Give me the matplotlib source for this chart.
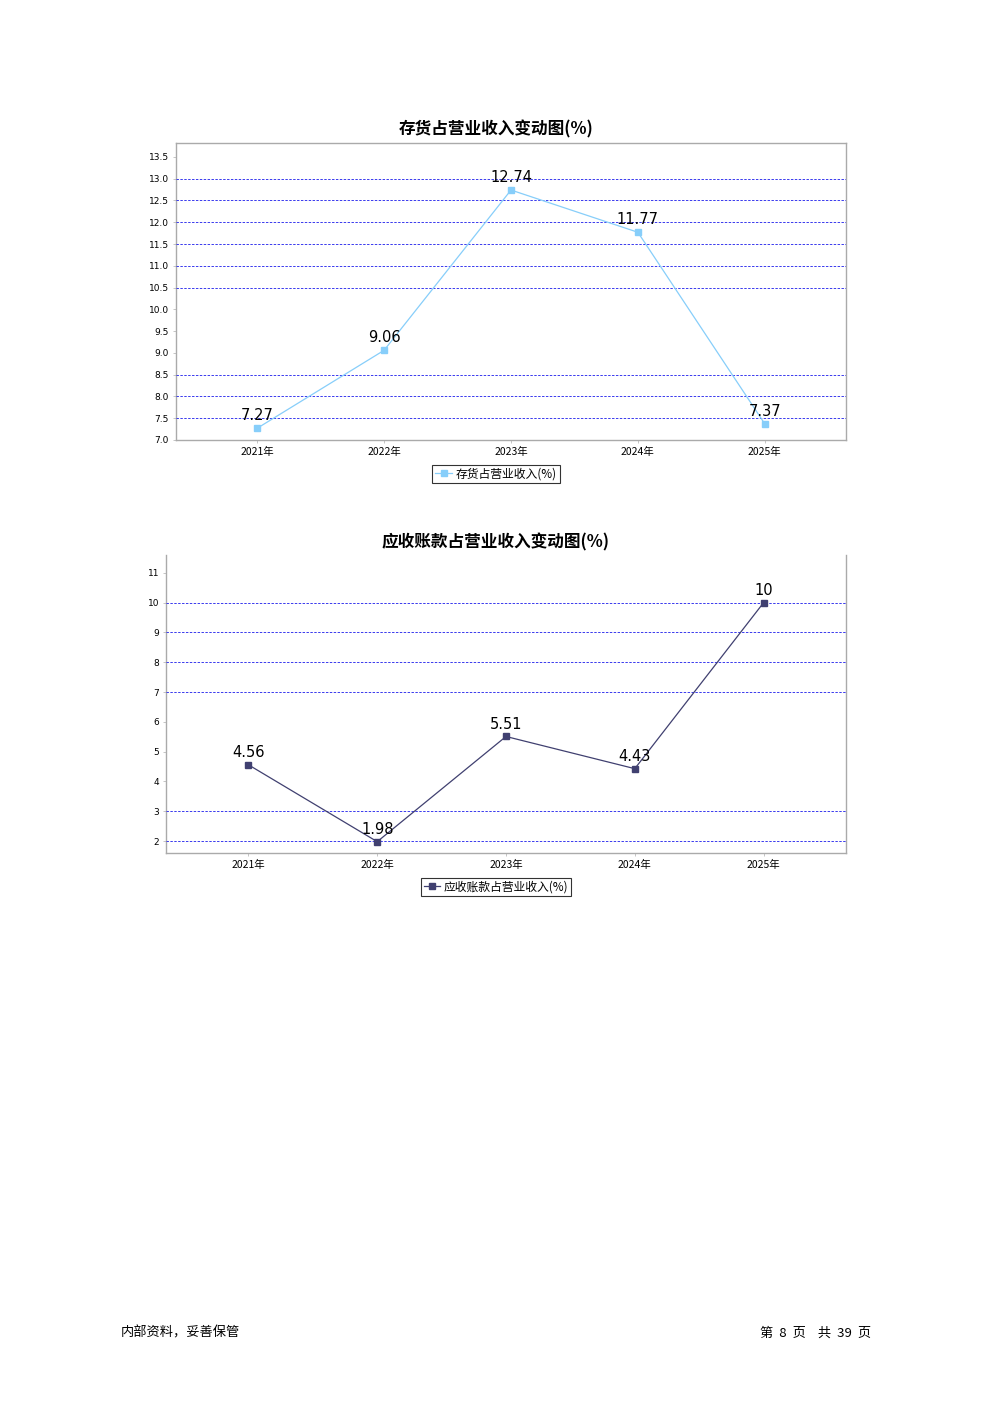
import matplotlib
matplotlib.use("Agg")
import matplotlib.pyplot as plt

plt.rcParams['font.family'] = ['Noto Sans CJK SC', 'DejaVu Sans']

years = ['2021年', '2022年', '2023年', '2024年', '2025年']

# chart 1: inventory / revenue
inv_vals = [7.27, 9.06, 12.74, 11.77, 7.37]
inv_labels = ['7.27', '9.06', '12.74', '11.77', '7.37']
inv_ticks = [7.0, 7.5, 8.0, 8.5, 9.0, 9.5, 10.0, 10.5, 11.0, 11.5, 12.0, 12.5, 13.0, 13.5]
inv_grid = [7.0, 7.5, 8.0, 8.5, 10.5, 11.0, 11.5, 12.0, 12.5, 13.0]

# chart 2: receivables / revenue
ar_vals = [4.56, 1.98, 5.51, 4.43, 10]
ar_labels = ['4.56', '1.98', '5.51', '4.43', '10']
ar_ticks = [2, 3, 4, 5, 6, 7, 8, 9, 10, 11]
ar_grid = [2, 3, 7, 8, 9, 10]

W, H = 992, 1403
fig = plt.figure(figsize=(9.92, 14.03), dpi=100)


def px_axes(x0, y0, x1, y1):
    return fig.add_axes([x0 / W, 1 - y1 / H, (x1 - x0) / W, (y1 - y0) / H])


def draw(ax, vals, labels, ticks, grid, ylim, color, title, name, fmt, top_spine, title_y, leg_y):
    xs = range(len(vals))
    for g in grid:
        ax.axhline(g, color='#3a3aee', lw=0.7, ls=(0, (2.5, 1.5)), zorder=2.6)
    ax.plot(xs, vals, color=color, lw=0.9, marker='s', ms=5, mec=color, label=name, zorder=3)
    for x, v, t in zip(xs, vals, labels):
        ax.annotate(t, (x, v), xytext=(0, 3.5), textcoords='offset points',
                    ha='center', va='bottom', fontsize=10.5, family='DejaVu Sans', zorder=4)
    ax.set_xlim(-0.64, len(vals) - 1 + 0.64)
    ax.set_ylim(*ylim)
    ax.set_xticks(list(xs))
    ax.set_xticklabels(years, fontsize=7.5)
    ax.set_yticks(ticks)
    ax.set_yticklabels([fmt.format(t) for t in ticks], fontsize=6.5, family='DejaVu Sans')
    ax.tick_params(length=2, width=0.6, color='#bbbbbb', pad=3)
    for s in ax.spines.values():
        s.set_color('#aaaaaa')
        s.set_linewidth(1.0)
    ax.spines['top'].set_visible(top_spine)
    fig.text(0.5, 1 - title_y / H, title, ha='center', va='center', fontsize=12, fontweight='bold')
    leg = ax.legend(loc='center', bbox_to_anchor=(0.5, 1 - leg_y / H), bbox_transform=fig.transFigure,
                    fontsize=8.5, frameon=True, fancybox=False, handlelength=1.4,
                    borderpad=0.25, handletextpad=0.3, markerscale=0.8)
    leg.get_frame().set_edgecolor('black')
    leg.get_frame().set_linewidth(0.8)


ax1 = px_axes(176, 143, 846, 440)
draw(ax1, inv_vals, inv_labels, inv_ticks, inv_grid, (7.0, 13.82), '#87cefa',
     '存货占营业收入变动图(%)', '存货占营业收入(%)', '{:.1f}', True, 129, 474)

ax2 = px_axes(166, 555, 846, 853)
draw(ax2, ar_vals, ar_labels, ar_ticks, ar_grid, (1.6, 11.6), '#404070',
     '应收账款占营业收入变动图(%)', '应收账款占营业收入(%)', '{:d}', False, 542, 887)

fig.text(121 / W, 1 - 1333 / H, '内部资料，妥善保管', ha='left', va='center', fontsize=9.5)
fig.text(871 / W, 1 - 1333 / H, '第  8  页    共  39  页', ha='right', va='center', fontsize=9.5)

fig.savefig('out.png', dpi=100)
